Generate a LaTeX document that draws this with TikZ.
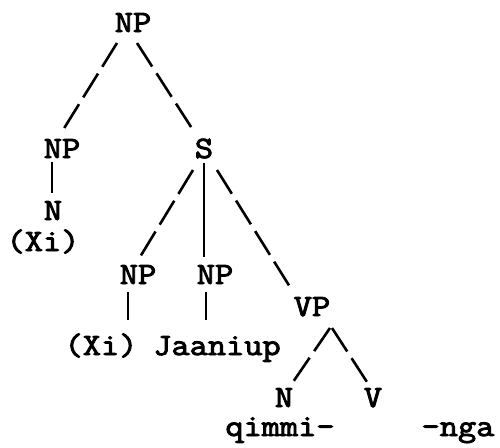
\documentclass[tikz,border=0pt]{standalone}
\usepackage{fontspec}
\setmonofont{Latin Modern Mono}[FakeBold=3,FakeStretch=1.14]
\usetikzlibrary{calc}
\begin{document}
\begin{tikzpicture}[x=1pt,y=-1pt,
  lbl/.style={font=\fontsize{31}{31}\selectfont\ttfamily, inner sep=0pt, anchor=base},
  br/.style={line width=2.6pt},
  dbr/.style={line width=2.6pt, dash pattern=on 28pt off 8pt}]
\useasboundingbox (0,0) rectangle (500,447);
\node[lbl] (np0) at (133,32) {NP};
\node[lbl] (npl) at (62,158) {NP};
\node[lbl] (s) at (204,158) {S};
\node[lbl] (nl) at (53,220) {N};
\node[lbl] (xi1) at (43,251) {(Xi)};
\node[lbl] (npm) at (138,284) {NP};
\node[lbl] (npr) at (215,284) {NP};
\node[lbl] (vp) at (312,316) {VP};
\node[lbl] (xi2) at (101,355) {(Xi)};
\node[lbl] (jaan) at (217,355) {Jaaniup};
\node[lbl] (n2) at (284,407) {N};
\node[lbl] (v2) at (373,407) {V};
\node[lbl] (qim) at (280,436) {qimmi-};
\node[lbl] (nga) at (458,436) {-nga};
\draw[dbr] ($(np0.base)+(-16,11)$) -- ($(npl.base)+(1,-28)$);
\draw[dbr] ($(np0.base)+(4,11)$) -- ($(s.base)+(-11,-28)$);
\draw[br] ($(npl.base)+(-10,4)$) -- ($(nl.base)+(-1,-27)$);
\draw[dbr] ($(s.base)+(-11,12)$) -- ($(npm.base)+(2,-27)$);
\draw[br] ($(s.base)+(0,5)$) -- ($(npr.base)+(-11,-27)$);
\draw[dbr] ($(s.base)+(13,12)$) -- ($(vp.base)+(-22,-29)$);
\draw[br] ($(npm.base)+(-10,8)$) -- ($(xi2.base)+(27,-35)$);
\draw[br] ($(npr.base)+(-9,8)$) -- ($(jaan.base)+(-11,-35)$);
\draw[dbr] ($(vp.base)+(18,12)$) -- ($(n2.base)+(9,-25)$);
\draw[dbr] ($(vp.base)+(20,12)$) -- ($(v2.base)+(-6,-25)$);
\end{tikzpicture}
\end{document}
